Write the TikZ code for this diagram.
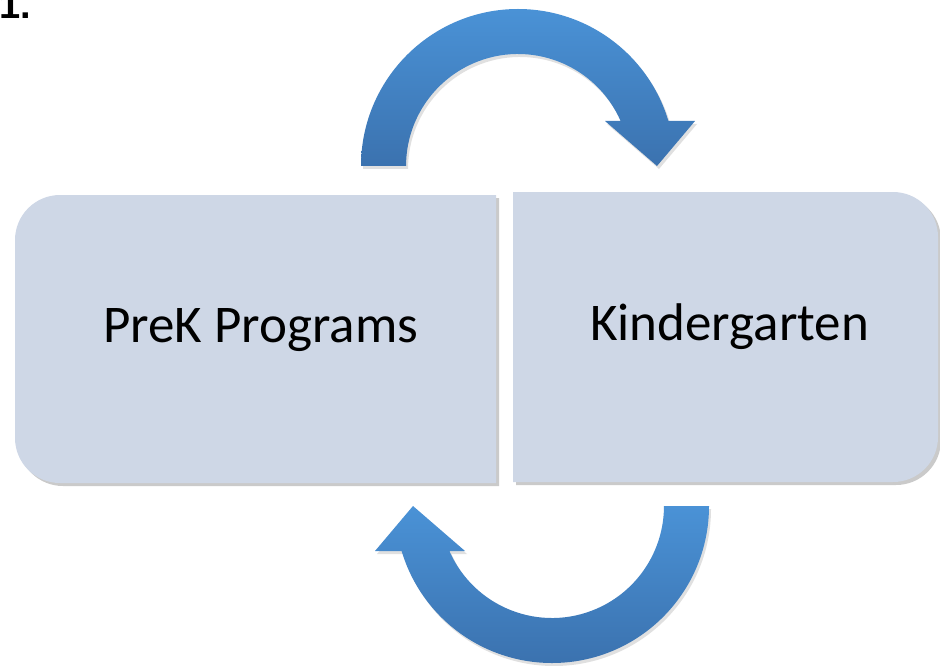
\documentclass[tikz,border=0pt]{standalone}
\usepackage{fontspec}
\setmainfont{Carlito}
\newfontfamily\numfont{Liberation Sans}
\usepackage{tikz}
\usetikzlibrary{
	shadows
}

\definecolor{boxfill}{RGB}{206,215,230}
\definecolor{arrowtop}{RGB}{74,146,214}
\definecolor{arrowbottom}{RGB}{59,114,175}

\tikzset{
	stagebox/.style={
		fill=boxfill,
		drop shadow={shadow xshift=1.5pt, shadow yshift=-1.5pt, opacity=.35, fill=black!60}
	},
	cyclearrow/.style={
		top color=arrowtop, bottom color=arrowbottom,
		drop shadow={shadow xshift=1pt, shadow yshift=-1.5pt, opacity=.2, fill=black!60}
	},
	stagelabel/.style={
		font=\fontsize{26.5}{32}\selectfont,
		inner sep=0pt, anchor=base
	}
}

\begin{document}
\begin{tikzpicture}[x=0.5pt, y=0.5pt]
		\useasboundingbox (0,0) rectangle (940,665);

		% the two stages
		\path[stagebox]
			(496,182) -- (60,182) arc[start angle=270, end angle=180, radius=45]
			-- (15,425) arc[start angle=180, end angle=90, radius=45]
			-- (496,470) -- cycle;
		\path[stagebox]
			(513,183) -- (893,183) arc[start angle=-90, end angle=0, radius=45]
			-- (938,428) arc[start angle=0, end angle=90, radius=45]
			-- (513,473) -- cycle;

		\node[stagelabel] (prek)   at (260.5,323) {PreK Programs};
		\node[stagelabel] (kinder) at (729.5,325) {Kindergarten};
		\node[font=\numfont\bfseries\fontsize{19}{23}\selectfont, inner sep=0pt, anchor=base west] (num) at (-1,646) {1.};

		% arrows going round
		\path[cyclearrow]
			(361,499) arc[start angle=180, end angle=16.66, radius=157]
			-- (695,544) -- (657,499) -- (605,544) -- (620.6,544)
			arc[start angle=23.69, end angle=180, radius=112] -- cycle;
		\path[cyclearrow]
			(709,159) arc[start angle=0, end angle=-163.34, radius=157]
			-- (375,114) -- (413,159) -- (465,114) -- (449.4,114)
			arc[start angle=-156.31, end angle=0, radius=112] -- cycle;
	\end{tikzpicture}
\end{document}
